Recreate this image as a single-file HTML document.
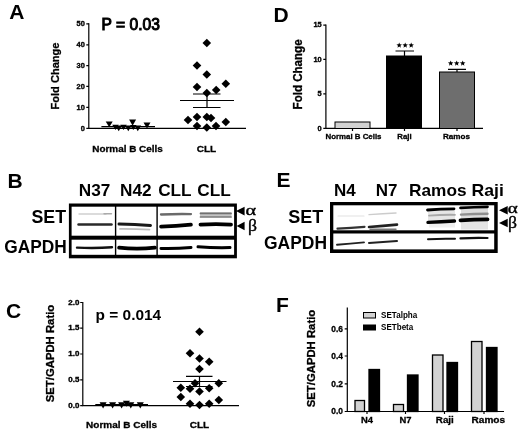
<!DOCTYPE html>
<html>
<head>
<meta charset="utf-8">
<title>Figure</title>
<style>
html,body{margin:0;padding:0;background:#fff;}
body{width:520px;height:432px;overflow:hidden;}
svg{display:block;filter:blur(0.4px);}
svg text{font-family:"Liberation Sans",sans-serif;font-weight:bold;fill:#000;}
.serif{font-family:"Liberation Serif",serif;font-weight:normal;stroke:#000;stroke-width:0.4px;}
.pl{font-size:21px;}
.tk{font-size:7.4px;text-anchor:end;stroke:#000;stroke-width:0.35px;}
.tkf{font-size:8.4px;text-anchor:end;stroke:#000;stroke-width:0.3px;}
.hv{stroke:#000;stroke-width:0.3px;}
.ax{stroke:#000;stroke-width:1.2;fill:none;}
</style>
</head>
<body>
<svg width="520" height="432" viewBox="0 0 520 432">
<rect x="0" y="0" width="520" height="432" fill="#fff"/>

<!-- ================= PANEL A ================= -->
<g id="pA">
<text class="pl" x="9.3" y="19.1">A</text>
<text x="101.6" y="29.5" font-size="15.6" style="font-weight:normal;stroke:#000;stroke-width:1px">P = 0.03</text>
<text class="hv" transform="translate(58.7,76) rotate(-90)" text-anchor="middle" font-size="11.6" textLength="67" lengthAdjust="spacingAndGlyphs">Fold Change</text>
<path class="ax" d="M88.8 23.3V128.5M88.2 128.3H246"/>
<path class="ax" d="M86.3 23.9h2.7M86.3 44.9h2.7M86.3 65.6h2.7M86.3 86.3h2.7M86.3 107.3h2.7M86.3 128.3h2.7"/>
<text class="tk" x="84.8" y="26.2">50</text>
<text class="tk" x="84.8" y="47.2">40</text>
<text class="tk" x="84.8" y="67.9">30</text>
<text class="tk" x="84.8" y="88.6">20</text>
<text class="tk" x="84.8" y="109.6">10</text>
<text class="tk" x="84.8" y="130.6">0</text>
<text class="hv" x="127.5" y="151.8" text-anchor="middle" font-size="9.4" textLength="70.5" lengthAdjust="spacingAndGlyphs">Normal B Cells</text>
<text class="hv" x="206.5" y="151.8" text-anchor="middle" font-size="9.4" textLength="19.5" lengthAdjust="spacingAndGlyphs">CLL</text>
<!-- normal mean -->
<path class="ax" d="M101.4 126.6H155"/>
<g id="triA" fill="#000">
<path d="M105.7 121.6h7.0l-3.5 5.6z"/>
<path d="M129.1 119.6h7.0l-3.5 6.2z"/>
<path d="M143.5 122.4h7.0l-3.5 6.0z"/>
<path d="M115.4 125.4h6.6l-3.3 5.8z"/>
<path d="M125.0 125.4h6.6l-3.3 5.8z"/>
<path d="M134.5 125.4h6.6l-3.3 5.8z"/>
<path d="M120.2 124.8h6.6l-3.3 5.2z"/>
<path d="M130.0 125.0h6.6l-3.3 5.0z"/>
<path d="M112.2 124.8h6.6l-3.3 5.2z"/>
</g>
<!-- CLL mean / sem -->
<path class="ax" d="M180 100.5H234M193 94H220.5M193 107.5H220.5M207 94V107.5" stroke-width="1.2"/>
<g id="diaA" fill="#000">
<path d="M206.8 38.7l4.3 4.3-4.3 4.3-4.3-4.3z"/>
<path d="M197.0 61.2l4.3 4.3-4.3 4.3-4.3-4.3z"/>
<path d="M206.8 70.2l4.3 4.3-4.3 4.3-4.3-4.3z"/>
<path d="M225.8 79.5l4.3 4.3-4.3 4.3-4.3-4.3z"/>
<path d="M197.0 82.7l4.3 4.3-4.3 4.3-4.3-4.3z"/>
<path d="M216.2 85.7l4.3 4.3-4.3 4.3-4.3-4.3z"/>
<path d="M206.8 88.7l4.3 4.3-4.3 4.3-4.3-4.3z"/>
<path d="M188.0 115.7l4.3 4.3-4.3 4.3-4.3-4.3z"/>
<path d="M197.0 112.7l4.3 4.3-4.3 4.3-4.3-4.3z"/>
<path d="M206.8 112.7l4.3 4.3-4.3 4.3-4.3-4.3z"/>
<path d="M211.0 113.7l4.3 4.3-4.3 4.3-4.3-4.3z"/>
<path d="M225.8 117.7l4.3 4.3-4.3 4.3-4.3-4.3z"/>
<path d="M197.0 121.7l4.3 4.3-4.3 4.3-4.3-4.3z"/>
<path d="M206.8 123.2l4.3 4.3-4.3 4.3-4.3-4.3z"/>
<path d="M216.0 121.7l4.3 4.3-4.3 4.3-4.3-4.3z"/>
</g>
</g>

<!-- ================= PANEL D ================= -->
<g id="pD">
<text class="pl" x="273.4" y="21.7">D</text>
<text class="hv" transform="translate(302,74.4) rotate(-90)" text-anchor="middle" font-size="12" textLength="70" lengthAdjust="spacingAndGlyphs">Fold Change</text>
<path class="ax" d="M325.9 24.6V128.5M325.3 128.3H483" stroke="#222"/>
<path class="ax" d="M323.3 25.2h2.6M323.3 59.3h2.6M323.3 93.8h2.6M323.3 128.3h2.6M352.5 128.5v2.5M404.5 128.5v2.5M457 128.5v2.5"/>
<text class="tk" x="321.7" y="27.3">15</text>
<text class="tk" x="321.7" y="61.5">10</text>
<text class="tk" x="321.7" y="96">5</text>
<text class="tk" x="321.7" y="130.5">0</text>
<rect x="335" y="122" width="35" height="6.5" fill="#d2d2d2" stroke="#000" stroke-width="1"/>
<rect x="386" y="55.5" width="36" height="73" fill="#000"/>
<rect x="439.5" y="72" width="35" height="56.5" fill="#6e6e6e" stroke="#000" stroke-width="1"/>
<path class="ax" d="M404.5 51V56M395.5 51H414M457 69.3V72M448 69.3H466" stroke-width="1.2"/>
<g fill="#000"><polygon points="399.20,42.40 399.93,44.29 401.96,44.40 400.39,45.69 400.90,47.65 399.20,46.55 397.50,47.65 398.01,45.69 396.44,44.40 398.47,44.29"/><polygon points="405.20,42.40 405.93,44.29 407.96,44.40 406.39,45.69 406.90,47.65 405.20,46.55 403.50,47.65 404.01,45.69 402.44,44.40 404.47,44.29"/><polygon points="411.20,42.40 411.93,44.29 413.96,44.40 412.39,45.69 412.90,47.65 411.20,46.55 409.50,47.65 410.01,45.69 408.44,44.40 410.47,44.29"/></g>
<g fill="#000"><polygon points="450.70,60.40 451.43,62.29 453.46,62.40 451.89,63.69 452.40,65.65 450.70,64.55 449.00,65.65 449.51,63.69 447.94,62.40 449.97,62.29"/><polygon points="456.70,60.40 457.43,62.29 459.46,62.40 457.89,63.69 458.40,65.65 456.70,64.55 455.00,65.65 455.51,63.69 453.94,62.40 455.97,62.29"/><polygon points="462.70,60.40 463.43,62.29 465.46,62.40 463.89,63.69 464.40,65.65 462.70,64.55 461.00,65.65 461.51,63.69 459.94,62.40 461.97,62.29"/></g>
<text class="hv" x="353.5" y="139" text-anchor="middle" font-size="7.8" textLength="56" lengthAdjust="spacingAndGlyphs">Normal B Cells</text>
<text class="hv" x="404.5" y="139" text-anchor="middle" font-size="7.8">Raji</text>
<text class="hv" x="456.5" y="139" text-anchor="middle" font-size="7.8" textLength="27" lengthAdjust="spacingAndGlyphs">Ramos</text>
</g>

<!-- ================= PANEL B ================= -->
<g id="pB">
<text class="pl" x="7.6" y="187.7">B</text>
<text x="78.8" y="195.6" font-size="17.2">N37</text>
<text x="120" y="195.6" font-size="17.2" textLength="31.5" lengthAdjust="spacingAndGlyphs">N42</text>
<text x="158.2" y="195.6" font-size="17.2">CLL</text>
<text x="197.3" y="195.6" font-size="17.2">CLL</text>
<text x="66" y="223.4" font-size="17.8" text-anchor="end">SET</text>
<text x="66.8" y="253.2" font-size="17.8" text-anchor="end" textLength="62.6" lengthAdjust="spacingAndGlyphs">GAPDH</text>
<rect x="68.9" y="203.5" width="168" height="54.8" fill="#000"/>
<rect x="71.6" y="206.7" width="162.5" height="29" fill="#fff"/>
<rect x="71.6" y="239.7" width="162.5" height="15.1" fill="#fff"/>
<path d="M115.6 205V257M157.1 205V257" stroke="#000" stroke-width="1.4" fill="none"/>
<g id="bandsB" fill="none" stroke-linecap="round">
<path d="M79 214H106" stroke="#cfcfcf" stroke-width="1.4"/><path d="M104 213.8H111.5" stroke="#aaa" stroke-width="1.4"/>
<path d="M78.5 224.5H111.5" stroke="#2a2a2a" stroke-width="2.5"/>
<path d="M119 224.1Q135 224.3 150.5 225.4" stroke="#1a1a1a" stroke-width="3"/>
<path d="M120 228.9Q135 228.8 149.5 229.6" stroke="#bdbdbd" stroke-width="1.7"/>
<path d="M161 214.5Q176 213.8 191 214.1" stroke="#6a6a6a" stroke-width="2.3"/>
<path d="M161 226.6Q176 226 191 224.6" stroke="#000" stroke-width="3.6"/>
<rect x="200" y="212.4" width="31.5" height="5.6" fill="#c4c4c4" stroke="none"/><path d="M200.5 213.4H231" stroke="#707070" stroke-width="1.8"/>
<path d="M200.5 216.9H231" stroke="#8c8c8c" stroke-width="1.7"/>
<path d="M200.5 224.6Q216 223.6 231 224.6" stroke="#000" stroke-width="3.8"/>
<path d="M77 247.6Q95 248.6 112 247.2" stroke="#111" stroke-width="2.4"/>
<path d="M119 247.6Q137 249.6 155 247.6" stroke="#000" stroke-width="3.6"/>
<path d="M161 248.4Q176 248.8 191 247.4" stroke="#000" stroke-width="3"/>
<path d="M198 246.8Q214 248 230 247.6" stroke="#000" stroke-width="3"/>
</g>
<path d="M236 211.1l8.6-4.3v8.6zM236.6 226l8-4.3v8.6z" fill="#000"/>
<text class="serif" x="245.6" y="215.2" font-size="15.5" textLength="10.6" lengthAdjust="spacingAndGlyphs">α</text>
<text class="serif" x="248" y="231" font-size="17.5" textLength="9" lengthAdjust="spacingAndGlyphs">β</text>
</g>

<!-- ================= PANEL E ================= -->
<g id="pE">
<text class="pl" x="276.4" y="187.1">E</text>
<text x="334" y="195.8" font-size="17">N4</text>
<text x="375.8" y="195.8" font-size="17">N7</text>
<text x="409" y="195.8" font-size="17" textLength="57.5" lengthAdjust="spacingAndGlyphs">Ramos</text>
<text x="471.6" y="195.8" font-size="17" textLength="32.3" lengthAdjust="spacingAndGlyphs">Raji</text>
<text x="323.3" y="223.4" font-size="18" text-anchor="end">SET</text>
<text x="327" y="249" font-size="18.2" text-anchor="end" textLength="63" lengthAdjust="spacingAndGlyphs">GAPDH</text>
<rect x="330" y="202" width="167.7" height="51" fill="#000"/>
<rect x="333.3" y="205.3" width="160.9" height="25" fill="#fff"/>
<rect x="333.3" y="233.5" width="160.9" height="15.9" fill="#fff"/>
<g stroke="none"><rect x="428" y="209" width="27" height="13" fill="#e6e6e6"/><rect x="461" y="207" width="27" height="13" fill="#dcdcdc"/><rect x="461" y="221" width="27" height="8.5" fill="#e4e4e4"/><rect x="429" y="223" width="26" height="4.5" fill="#efefef"/></g>
<g id="bandsE" fill="none" stroke-linecap="round">
<path d="M338 216H364" stroke="#e2e2e2" stroke-width="1.2"/>
<path d="M337.5 228.6Q351 227.8 364.5 226.8" stroke="#333" stroke-width="2.2"/>
<path d="M369 214.6Q383 213.6 396 213" stroke="#ccc" stroke-width="1.4"/>
<path d="M369 227Q383 226 397 224.6" stroke="#222" stroke-width="2.6"/>
<path d="M370 229.3H396" stroke="#777" stroke-width="1.4"/>
<path d="M427.5 210Q441 208.8 454 208.8" stroke="#000" stroke-width="2.8"/>
<path d="M429 215.6Q442 214.6 455 214.8" stroke="#a8a8a8" stroke-width="1.8"/>
<path d="M428 222.4Q441 221.8 454.5 221" stroke="#000" stroke-width="3.4"/>
<path d="M460.5 207.9Q474 207 487.5 206.8" stroke="#000" stroke-width="2.7"/>
<path d="M461 214.6Q474 213.8 487.5 213.8" stroke="#8e8e8e" stroke-width="2.4"/>
<path d="M460.5 220.4Q474 219.6 487.5 219.4" stroke="#000" stroke-width="3.8"/>
<path d="M337 244.7Q350 243.5 364 242.4" stroke="#222" stroke-width="1.9"/>
<path d="M369 243Q383 242 397 241" stroke="#222" stroke-width="2"/>
<path d="M428 239.2Q441 238.4 455 238.8" stroke="#111" stroke-width="2"/>
<path d="M460.5 238.4Q474 237.6 487.5 238" stroke="#111" stroke-width="2.2"/>
</g>
<path d="M499 210.2l8.7-4.2v8.4zM499 223l8.7-4.2v8.4z" fill="#000"/>
<text class="serif" x="507.7" y="213" font-size="15.5" textLength="10" lengthAdjust="spacingAndGlyphs">α</text>
<text class="serif" x="508" y="228.4" font-size="17.5" textLength="9" lengthAdjust="spacingAndGlyphs">β</text>
</g>

<!-- ================= PANEL C ================= -->
<g id="pC">
<text class="pl" x="6" y="317.5">C</text>
<text x="95.6" y="319.5" font-size="13.8" textLength="65.6" lengthAdjust="spacingAndGlyphs">p = 0.014</text>
<text class="hv" transform="translate(53.5,353.5) rotate(-90)" text-anchor="middle" font-size="11.4" textLength="97.5" lengthAdjust="spacingAndGlyphs">SET/GAPDH Ratio</text>
<path class="ax" d="M82.8 301.9V405.9M82.2 405.6H239"/>
<path class="ax" d="M80.2 302.5h2.6M80.2 328.2h2.6M80.2 354h2.6M80.2 379.8h2.6M80.2 405.6h2.6"/>
<text class="tk" x="79.3" y="304.6" textLength="11" lengthAdjust="spacingAndGlyphs">2.0</text>
<text class="tk" x="79.3" y="330.3" textLength="11" lengthAdjust="spacingAndGlyphs">1.5</text>
<text class="tk" x="79.3" y="356.1" textLength="11" lengthAdjust="spacingAndGlyphs">1.0</text>
<text class="tk" x="79.3" y="381.9" textLength="11" lengthAdjust="spacingAndGlyphs">0.5</text>
<text class="tk" x="79.3" y="408.1" textLength="11" lengthAdjust="spacingAndGlyphs">0.0</text>
<text class="hv" x="121.6" y="427.9" text-anchor="middle" font-size="9.4" textLength="71" lengthAdjust="spacingAndGlyphs">Normal B Cells</text>
<text class="hv" x="199.5" y="427.9" text-anchor="middle" font-size="9.4" textLength="19.5" lengthAdjust="spacingAndGlyphs">CLL</text>
<path class="ax" d="M95.3 404.6H148"/>
<g id="triC" fill="#000">
<path d="M99.6 402.2h7.0l-3.5 6.3z"/>
<path d="M109.1 402.2h7.0l-3.5 6.3z"/>
<path d="M118.1 402.2h7.0l-3.5 6.3z"/>
<path d="M122.9 400.8h7.0l-3.5 6.0z"/>
<path d="M127.3 402.2h7.0l-3.5 6.3z"/>
<path d="M136.8 402.2h7.0l-3.5 6.3z"/>
</g>
<path class="ax" d="M173 381.5H226.5M186 376.3H212.5M186 386.5H212.5M199.5 376.3V386.5" stroke-width="1.2"/>
<g id="diaC" fill="#000">
<path d="M199.5 327.5l4.3 4.3-4.3 4.3-4.3-4.3z"/>
<path d="M190.0 348.9l4.3 4.3-4.3 4.3-4.3-4.3z"/>
<path d="M199.5 354.2l4.3 4.3-4.3 4.3-4.3-4.3z"/>
<path d="M209.2 357.5l4.3 4.3-4.3 4.3-4.3-4.3z"/>
<path d="M199.5 364.7l4.3 4.3-4.3 4.3-4.3-4.3z"/>
<path d="M218.8 378.9l4.3 4.3-4.3 4.3-4.3-4.3z"/>
<path d="M195.0 378.9l4.3 4.3-4.3 4.3-4.3-4.3z"/>
<path d="M180.8 383.5l4.3 4.3-4.3 4.3-4.3-4.3z"/>
<path d="M190.0 384.5l4.3 4.3-4.3 4.3-4.3-4.3z"/>
<path d="M209.2 383.9l4.3 4.3-4.3 4.3-4.3-4.3z"/>
<path d="M199.5 387.2l4.3 4.3-4.3 4.3-4.3-4.3z"/>
<path d="M180.8 392.7l4.3 4.3-4.3 4.3-4.3-4.3z"/>
<path d="M218.8 395.7l4.3 4.3-4.3 4.3-4.3-4.3z"/>
<path d="M190.0 399.5l4.3 4.3-4.3 4.3-4.3-4.3z"/>
<path d="M199.5 400.7l4.3 4.3-4.3 4.3-4.3-4.3z"/>
<path d="M209.2 399.5l4.3 4.3-4.3 4.3-4.3-4.3z"/>
</g>
</g>

<!-- ================= PANEL F ================= -->
<g id="pF">
<text class="pl" x="276.1" y="311.8">F</text>
<text class="hv" transform="translate(314.9,358.5) rotate(-90)" text-anchor="middle" font-size="11.4" textLength="97.5" lengthAdjust="spacingAndGlyphs">SET/GAPDH Ratio</text>
<path class="ax" d="M347.3 307.5V411.7M346.7 411.5H504" stroke="#222"/>
<path class="ax" d="M344.7 328.8h2.6M344.7 356h2.6M344.7 383.8h2.6M344.7 411.5h2.6M367 411.5v2.6M405.5 411.5v2.6M444.5 411.5v2.6M484 411.5v2.6"/>
<text class="tkf" x="343" y="331.7">0.6</text>
<text class="tkf" x="343" y="358.9">0.4</text>
<text class="tkf" x="343" y="386.7">0.2</text>
<text class="tkf" x="343" y="414.4">0.0</text>
<rect x="363.5" y="312.5" width="12" height="5.5" fill="#d2d2d2" stroke="#000" stroke-width="1"/>
<rect x="363" y="324.5" width="13" height="6" fill="#000"/>
<text x="381" y="318.2" font-size="8.8" textLength="36.3" lengthAdjust="spacingAndGlyphs">SETalpha</text>
<text x="381" y="330.4" font-size="8.8" textLength="32.3" lengthAdjust="spacingAndGlyphs">SETbeta</text>
<g stroke="#000" stroke-width="1.3">
<rect x="355" y="400.5" width="9.5" height="11" fill="#d2d2d2"/>
<rect x="369" y="369.5" width="10.5" height="42" fill="#000"/>
<rect x="393.5" y="404.5" width="10" height="7" fill="#d2d2d2"/>
<rect x="407.5" y="375" width="10.5" height="36.5" fill="#000"/>
<rect x="432.5" y="355" width="10.5" height="56.5" fill="#d2d2d2"/>
<rect x="447" y="362.5" width="10.5" height="49" fill="#000"/>
<rect x="471.5" y="341.5" width="10.5" height="70" fill="#d2d2d2"/>
<rect x="486.5" y="347.5" width="10.5" height="64" fill="#000"/>
</g>
<text class="hv" x="367" y="423.3" text-anchor="middle" font-size="9.2" textLength="12" lengthAdjust="spacingAndGlyphs">N4</text>
<text class="hv" x="405.6" y="423.3" text-anchor="middle" font-size="9.2" textLength="12" lengthAdjust="spacingAndGlyphs">N7</text>
<text class="hv" x="444.8" y="423.3" text-anchor="middle" font-size="9.2" textLength="18" lengthAdjust="spacingAndGlyphs">Raji</text>
<text class="hv" x="488.3" y="423.3" text-anchor="middle" font-size="9.2" textLength="33.5" lengthAdjust="spacingAndGlyphs">Ramos</text>
</g>
</svg>
</body>
</html>
